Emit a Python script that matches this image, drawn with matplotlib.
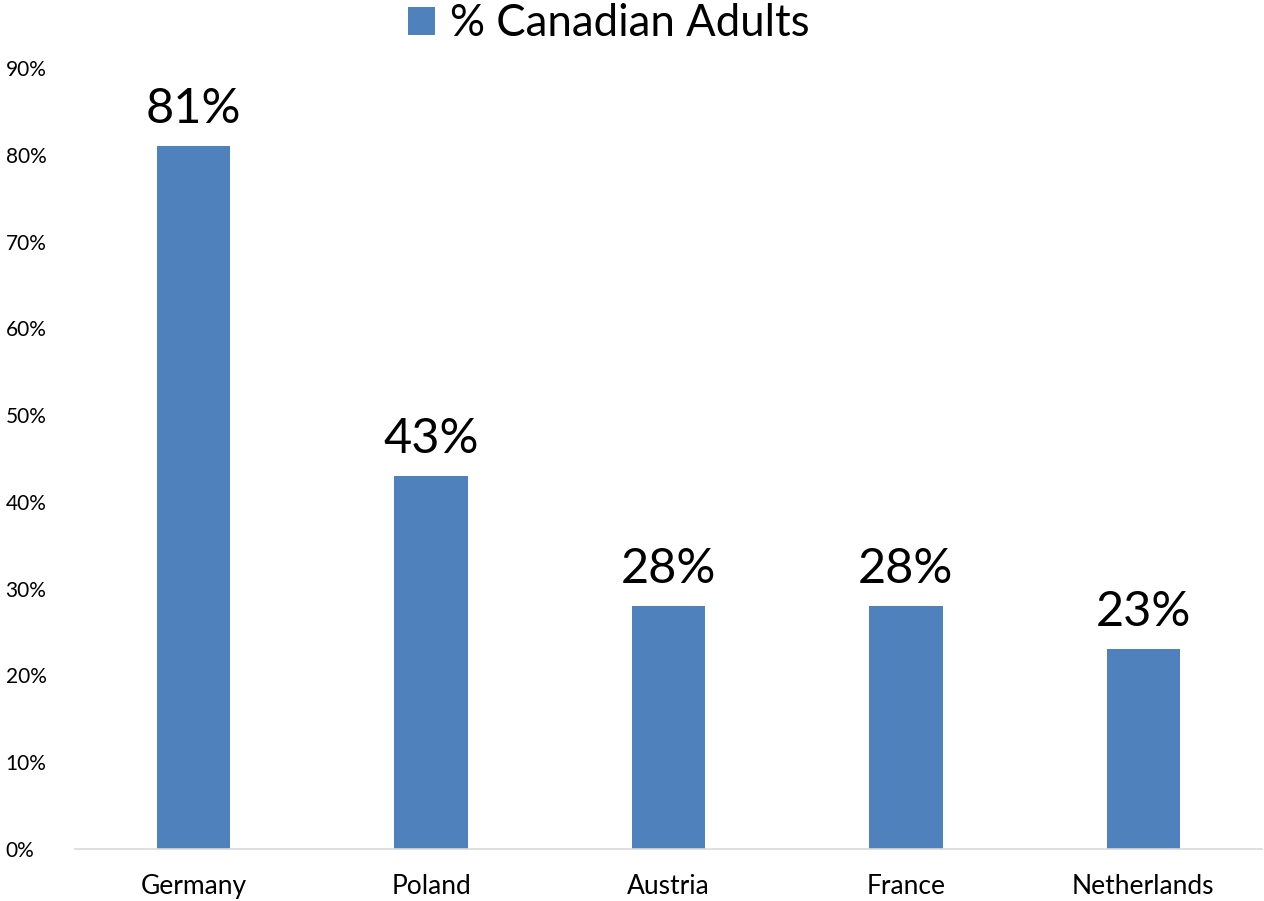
import matplotlib.pyplot as plt
from matplotlib.ticker import FuncFormatter

countries = ["Germany", "Poland", "Austria", "France", "Netherlands"]
pct_adults = [81, 43, 28, 28, 23]
y_ticks = [0, 10, 20, 30, 40, 50, 60, 70, 80, 90]

plt.rcParams['font.family'] = ['Lato', 'DejaVu Sans']
bar_color = '#4F81BD'

fig = plt.figure(figsize=(12.64, 9.01), dpi=100)
ax = fig.add_axes([75 / 1264, 1 - 849 / 901, (1262 - 75) / 1264, (849 - 68) / 901])

x = range(len(countries))
bars = ax.bar(x, pct_adults, width=0.31, color=bar_color, label='% Canadian Adults', zorder=2)

# value labels above bars
for b, v in zip(bars, pct_adults):
    ax.annotate(f"{v}%", (b.get_x() + b.get_width() / 2, v), xytext=(0, 11),
                textcoords='offset points', ha='center', va='bottom', fontsize=35)

ax.set_xlim(-0.5, len(countries) - 0.5)
ax.set_ylim(0, 90)
ax.set_yticks(y_ticks)
ax.yaxis.set_major_formatter(FuncFormatter(lambda v, p: f"{v:.0f}%"))
ax.set_xticks(list(x))
ax.set_xticklabels(countries)

for s in ['top', 'right', 'left']:
    ax.spines[s].set_visible(False)
ax.spines['bottom'].set_color('#D9D9D9')
ax.spines['bottom'].set_linewidth(1.2)

ax.tick_params(axis='y', length=0, labelsize=15, pad=50)
for lbl in ax.get_yticklabels():
    lbl.set_horizontalalignment('left')
ax.tick_params(axis='x', length=0, labelsize=19, pad=18)

fig.legend(loc='center', bbox_to_anchor=(609 / 1264, 1 - 24 / 901), frameon=False, fontsize=31.5,
           handlelength=0.6, handleheight=0.6, handletextpad=0.35, borderpad=0, borderaxespad=0)

fig.savefig('out.png', dpi=100)
